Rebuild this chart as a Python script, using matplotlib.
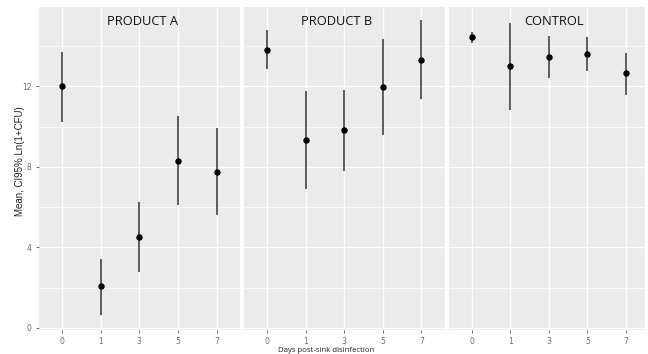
import matplotlib
matplotlib.use("Agg")
from matplotlib import pyplot as plt
from matplotlib.ticker import MultipleLocator

# days post-sink disinfection (categorical)
days = ["0", "1", "3", "5", "7"]
panels = ["PRODUCT A", "PRODUCT B", "CONTROL"]

# mean and 95% CI of Ln(1+CFU)
mean_a = [12.0, 2.07, 4.5, 8.28, 7.76]
low_a = [10.25, 0.66, 2.76, 6.09, 5.63]
high_a = [13.71, 3.44, 6.24, 10.51, 9.93]

mean_b = [13.82, 9.35, 9.85, 11.97, 13.34]
low_b = [12.87, 6.9, 7.81, 9.6, 11.39]
high_b = [14.82, 11.8, 11.84, 14.37, 15.3]

mean_c = [14.46, 13.01, 13.48, 13.63, 12.65]
low_c = [14.16, 10.84, 12.4, 12.75, 11.6]
high_c = [14.7, 15.15, 14.5, 14.46, 13.66]

W, H = 648, 354
fig = plt.figure(figsize=(W / 100, H / 100), dpi=100)

# panel extents in pixels (left, right), top/bottom shared
panel_px = [(38.5, 240), (244, 444.5), (449, 645)]
xlims = [(0.4, 5.6), (0.4, 5.6), (0.4, 5.5)]
title_x = [0.518, 0.462, 0.537]
top_px, bot_px = 7, 330

data = [(mean_a, low_a, high_a), (mean_b, low_b, high_b), (mean_c, low_c, high_c)]

for i, (name, (m, lo, hi)) in enumerate(zip(panels, data)):
    l, r = panel_px[i]
    ax = fig.add_axes([l / W, 1 - bot_px / H, (r - l) / W, (bot_px - top_px) / H])
    ax.set_facecolor("#EBEBEB")
    for s in ax.spines.values():
        s.set_visible(False)
    x = list(range(1, len(days) + 1))
    ax.vlines(x, lo, hi, color="#333333", linewidth=1.1, zorder=3)
    ax.plot(x, m, "o", color="black", markersize=3.6, zorder=4)
    ax.set_xlim(*xlims[i])
    ax.set_ylim(-0.1, 15.95)
    ax.set_xticks(x)
    ax.set_xticklabels(days)
    ax.yaxis.set_major_locator(MultipleLocator(4))
    ax.yaxis.set_minor_locator(MultipleLocator(2))
    ax.grid(which="major", color="white", linewidth=1.0)
    ax.grid(which="minor", axis="y", color="white", linewidth=0.5)
    ax.set_axisbelow(True)
    ax.tick_params(axis="both", which="major", length=2, width=0.6, color="#555555",
                   labelsize=5.5, labelcolor="#6E6E6E", pad=3)
    ax.tick_params(axis="y", which="minor", length=0)
    if i > 0:
        ax.tick_params(axis="y", which="major", left=False, labelleft=False)
    ax.text(title_x[i], 0.954, name, transform=ax.transAxes, ha="center", va="center",
            fontsize=9.3, family="Open Sans", color="#111111")

fig.text(20 / W, 1 - 161.5 / H, "Mean, CI95% Ln(1+CFU)", rotation=90, ha="center",
         va="center", fontsize=7, family="Liberation Sans", color="#222222")
fig.text(325.7 / W, 1 - 350 / H, "Days post-sink disinfection", ha="center", va="center",
         fontsize=5.6, family="Open Sans", color="#222222")

fig.savefig("out.png", dpi=100)
